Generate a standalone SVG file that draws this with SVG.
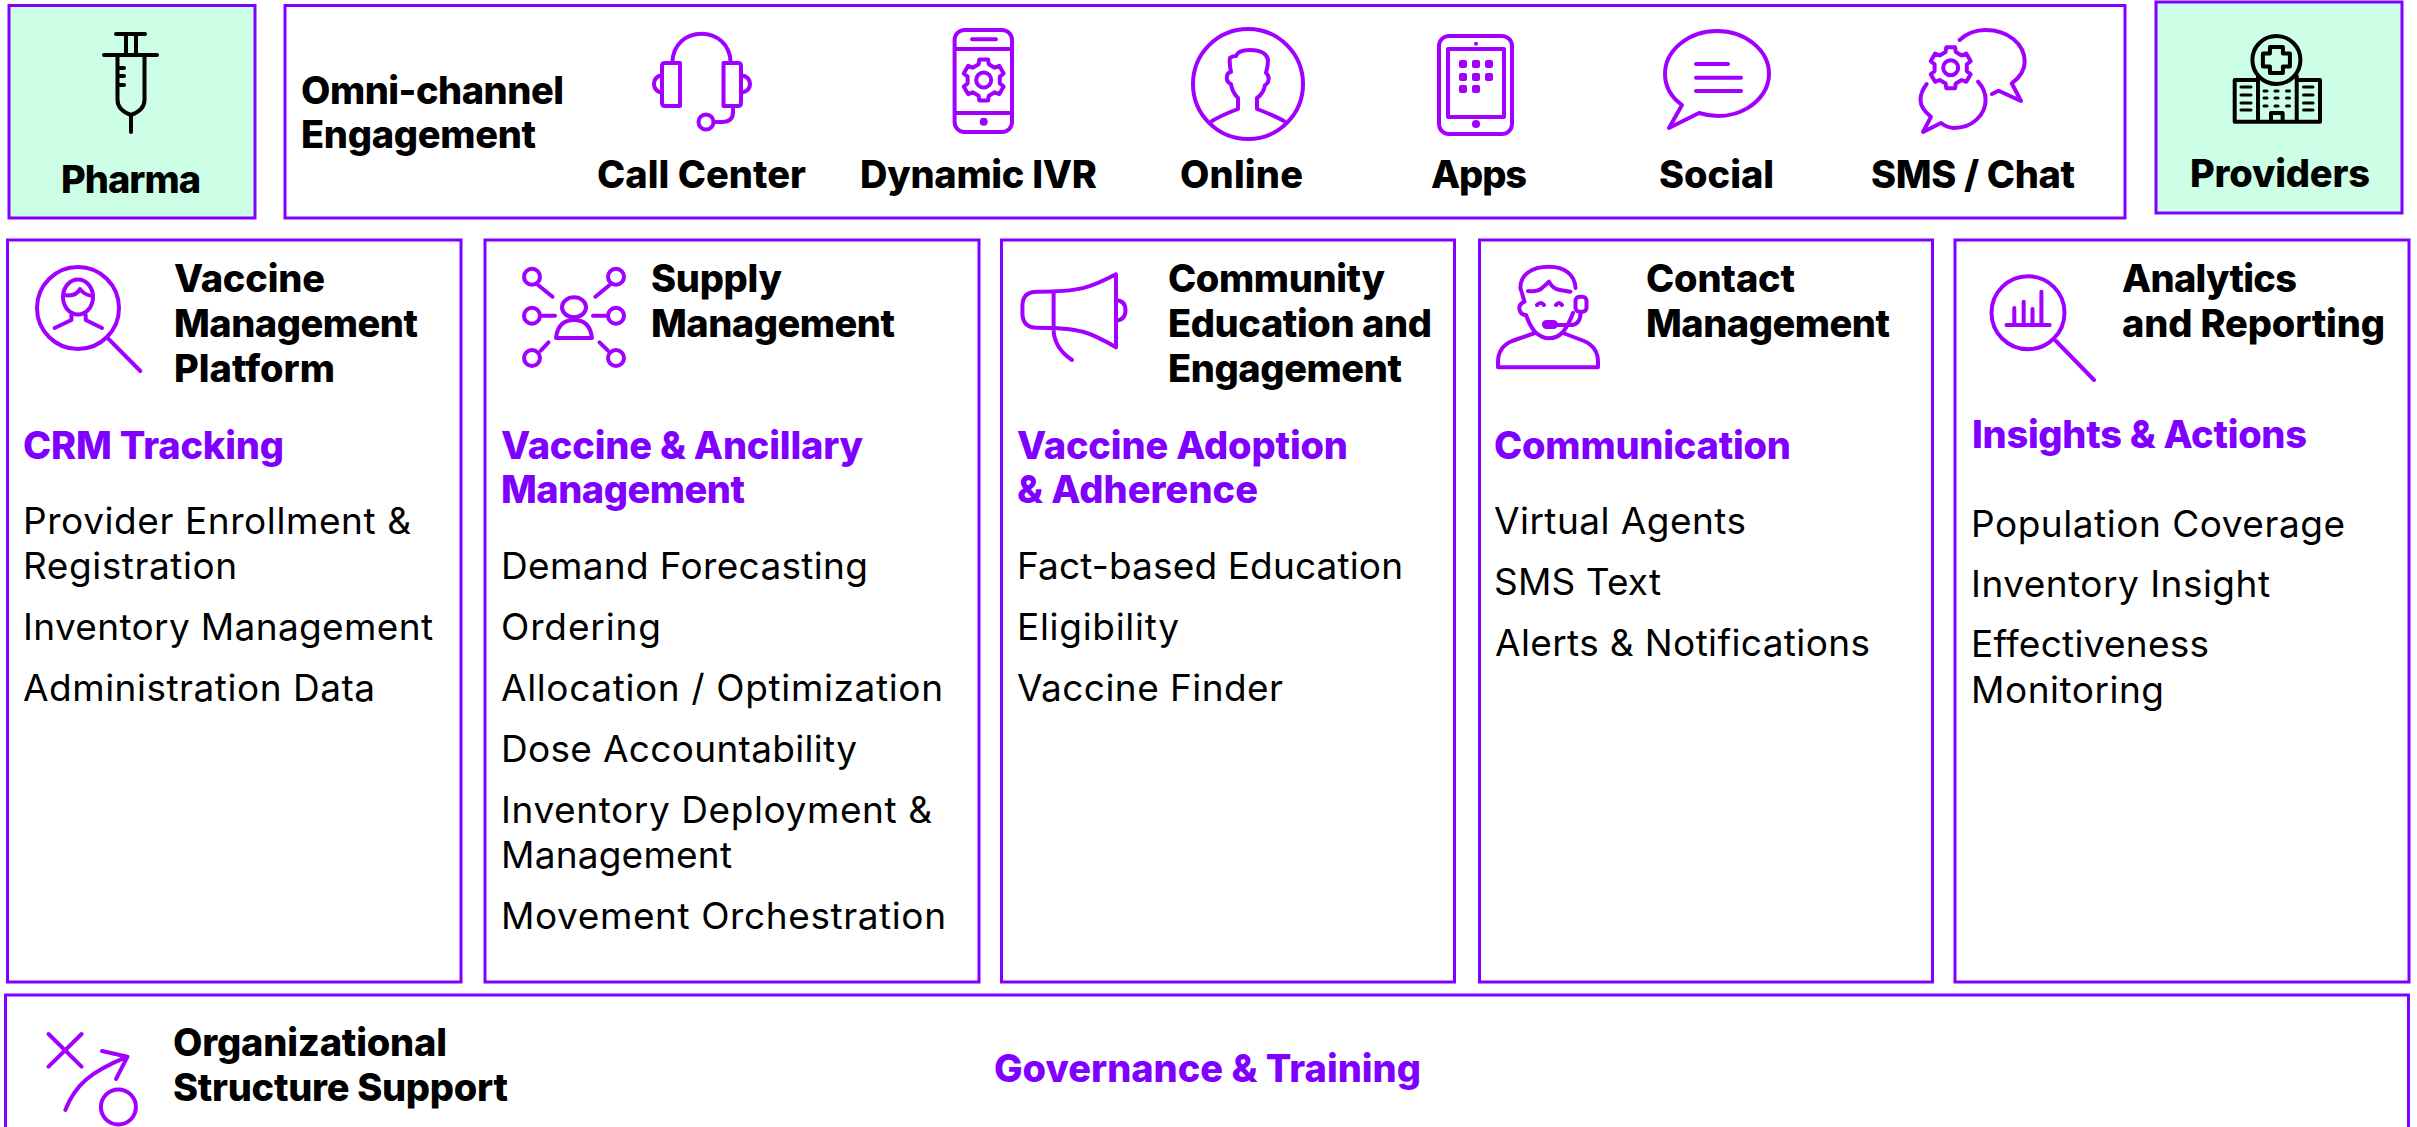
<svg xmlns="http://www.w3.org/2000/svg" xmlns:xlink="http://www.w3.org/1999/xlink" width="2417" height="1127" viewBox="0 0 2417 1127">
<style>
text{font-family:"Inter","Liberation Sans",sans-serif;fill:#000}
.h{font-size:38px;font-weight:800}
.s{font-size:38px;font-weight:800;fill:#8000ff}
.b{font-size:37px;font-weight:400}
.box{fill:#fff;stroke:#8000ff;stroke-width:3}
.green{fill:#ccffe6}
.ic{fill:none;stroke:#a100ff;stroke-width:4;stroke-linecap:round;stroke-linejoin:round}
.ik{fill:none;stroke:#000;stroke-width:4;stroke-linecap:round;stroke-linejoin:round}
.fp{fill:#a100ff}
.fk{fill:#000}
</style>
<defs>
<polygon id="gear" points="-5.1,-15.7 -4.4,-20.5 4.4,-20.5 5.1,-15.7 11,-12.3 15.6,-14.1 20,-6.5 16.1,-3.4 16.1,3.4 20,6.5 15.6,14.1 11,12.3 5.1,15.7 4.4,20.5 -4.4,20.5 -5.1,15.7 -11,12.3 -15.6,14.1 -20,6.5 -16.1,3.4 -16.1,-3.4 -20,-6.5 -15.6,-14.1 -11,-12.3"/>
</defs>
<rect width="2417" height="1127" fill="#fff"/>

<g id="pharma">
<rect class="box green" x="9" y="5.5" width="246" height="212.5"/>
<path class="ik" d="M116 34H145M126 34V55M136 34V55M104 55H157M117.500 55V100Q117.500 110 131 115Q144.500 110 144.500 100V55M131 115V132M118 68H124M118 76H124M118 85H124"/>
<text class="h" x="61" y="193" textLength="140">Pharma</text>
</g>

<g id="omni-channel">
<rect class="box" x="285" y="5.500" width="1840" height="212.500"/>
<text class="h" x="301" y="104" textLength="263">Omni-channel</text>
<text class="h" x="301" y="148" textLength="235">Engagement</text>
<g id="call-center">
<path class="ic" d="M672.400 62.700C673 24 730 24 730.600 62.700M662 66Q662 63 665 63H680V106H665Q662 106 662 103ZM741 66Q741 63 738 63H723.500V106H738Q741 106 741 103ZM662 75Q654 77 654 84Q654 91 662 93M741 75Q750 77 750 84Q750 91 741 93M733 106V112Q733 122 722 122H714"/>
<ellipse class="ic" cx="706" cy="122" rx="7.500" ry="7.500"/>
<text class="h" x="597" y="188" textLength="209">Call Center</text>
</g>
<g id="dynamic-ivr">
<rect class="ic" x="954.600" y="30" width="57.400" height="102" rx="10"/>
<path class="ic" d="M955 49H1012M955 113H1012M972 39.300H996"/>
<circle class="fp" cx="983.700" cy="121.700" r="4"/>
<use href="#gear" class="ic" x="983.700" y="80"/>
<circle class="ic" cx="983.700" cy="80" r="7.500"/>
<text class="h" x="860" y="188" textLength="237">Dynamic IVR</text>
</g>
<g id="online">
<circle class="ic" cx="1248" cy="84" r="55"/>
<path class="ic" d="M1212 121Q1222 115 1238 109V98Q1232 92 1231 84Q1226 82 1227 76Q1228 72 1231 72Q1229 62 1230 58Q1232 56 1236 56Q1238 50 1250 50Q1266 50 1268 60Q1268 66 1266 73Q1270 76 1268 82Q1266 85 1265 85Q1264 93 1257 98V109Q1273 115 1284 121"/>
<text class="h" x="1180" y="188" textLength="123">Online</text>
</g>
<g id="apps">
<rect class="ic" x="1439" y="36" width="73" height="98" rx="10"/>
<rect class="ic" x="1448" y="49" width="56" height="68"/>
<circle class="fp" cx="1476" cy="43.700" r="2"/>
<circle class="fp" cx="1476" cy="124" r="4"/>
<g class="fp">
<rect x="1459" y="60" width="8" height="8" rx="2"/><rect x="1472" y="60" width="8" height="8" rx="2"/><rect x="1485" y="60" width="8" height="8" rx="2"/>
<rect x="1459" y="73" width="8" height="8" rx="2"/><rect x="1472" y="73" width="8" height="8" rx="2"/><rect x="1485" y="73" width="8" height="8" rx="2"/>
<rect x="1459" y="85" width="8" height="8" rx="2"/><rect x="1472" y="85" width="8" height="8" rx="2"/>
</g>
<text class="h" x="1431" y="188" textLength="96">Apps</text>
</g>
<g id="social">
<path class="ic" d="M1682 105L1669 128L1699 113C1735 124 1769 102 1769 74C1769 50 1745 31 1717 31C1689 31 1665 50 1665 74C1665 87 1671 97 1682 105ZM1696 64H1728M1696 77.700H1741M1696 91H1741"/>
<text class="h" x="1659" y="188" textLength="115">Social</text>
</g>
<g id="sms-chat">
<use href="#gear" class="ic" x="1950.700" y="67.700"/>
<circle class="ic" cx="1950.700" cy="67.700" r="7.500"/>
<path class="ic" d="M1959.600 40C1968 32 1976 30 1985.600 30C2008 30 2024.700 44 2024.700 61.700C2024.700 70 2019 78 2011.700 83.300L2021 101L1998.600 90.700L1992 94M1926.700 84C1922 90 1920.500 95 1920.500 100C1920.500 106 1925 112 1931 116.700L1923 132L1941 123C1945 126 1949 128 1954 128C1972 128 1985.600 115 1985.600 100C1985.600 93 1983 87 1978 81.700"/>
<text class="h" x="1871" y="188" textLength="204">SMS / Chat</text>
</g>
</g>

<g id="providers">
<rect class="box green" x="2156" y="2" width="246" height="211"/>
<ellipse class="ik" cx="2276.400" cy="60" rx="24" ry="24"/>
<path class="ik" d="M2269.900 47H2282.900V53.500H2289.900V66.500H2282.900V73H2269.900V66.500H2262.900V53.500H2269.900ZM2258 80H2234.700V121.700H2320V80H2296.700M2258 76V121.700M2296.700 76V121.700M2271 121.700V113H2282.600V121.700"/>
<path class="ik" style="stroke-width:3" d="M2241 87H2251M2241 95H2251M2241 103H2251M2241 110H2251M2303.500 87H2313M2303.500 95H2313M2303.500 103H2313M2303.500 110H2313M2264 91H2267M2275 91H2278M2286.500 91H2289.500M2264 98H2267M2275 98H2278M2286.500 98H2289.500M2264 106H2267M2275 106H2278M2286.500 106H2289.500"/>
<text class="h" x="2190" y="187" textLength="180">Providers</text>
</g>

<g id="vaccine-management">
<rect class="box" x="7.500" y="240" width="453.500" height="742"/>
<circle class="ic" cx="78" cy="308" r="41"/>
<path class="ic" d="M108 338.300L140.300 371M64 295Q76 297 80 289Q84 295 93 296M71.400 315V320L54.600 328M85.700 315V320L102 328"/>
<ellipse class="ic" cx="78" cy="297" rx="15" ry="17.500"/>
<text class="h" x="174" y="292" textLength="151">Vaccine</text>
<text class="h" x="174" y="337" textLength="244">Management</text>
<text class="h" x="174" y="382" textLength="161">Platform</text>
<text class="s" x="23" y="458.500" textLength="261">CRM Tracking</text>
<text class="b" x="23" y="534" textLength="388">Provider Enrollment &amp;</text>
<text class="b" x="23" y="579" textLength="214">Registration</text>
<text class="b" x="23" y="640" textLength="410">Inventory Management</text>
<text class="b" x="23" y="700.700" textLength="352">Administration Data</text>
</g>

<g id="supply-management">
<rect class="box" x="485" y="240" width="494" height="742"/>
<g class="ic">
<ellipse cx="574" cy="307.300" rx="12" ry="10"/>
<path d="M556 338Q558 320 574 320Q590 320 592 338Z"/>
<circle cx="532" cy="276.700" r="8"/><circle cx="616" cy="276.700" r="8"/><circle cx="532" cy="315.700" r="8"/><circle cx="616" cy="315.700" r="8"/><circle cx="532" cy="358" r="8"/><circle cx="616" cy="358" r="8"/>
<path d="M538 285L552.500 296.700M609.700 285L595.400 296.700M542.400 315.700H555M593 315.700H605.600M540.800 350.700L548.500 342.300M599.500 342.300L608 350.700"/>
</g>
<text class="h" x="651" y="292" textLength="131">Supply</text>
<text class="h" x="651" y="337" textLength="244">Management</text>
<text class="s" x="501" y="458.500" textLength="362">Vaccine &amp; Ancillary</text>
<text class="s" x="501" y="503" textLength="244">Management</text>
<text class="b" x="501" y="579" textLength="367">Demand Forecasting</text>
<text class="b" x="501" y="640" textLength="160">Ordering</text>
<text class="b" x="501" y="700.700" textLength="442">Allocation / Optimization</text>
<text class="b" x="501" y="762" textLength="356">Dose Accountability</text>
<text class="b" x="501" y="823" textLength="431">Inventory Deployment &amp;</text>
<text class="b" x="501" y="868" textLength="231">Management</text>
<text class="b" x="501" y="929" textLength="445">Movement Orchestration</text>
</g>

<g id="community-education">
<rect class="box" x="1001.500" y="240" width="453" height="742"/>
<path class="ic" d="M1116 274.300V347.300M1116 274.300C1090 288 1080 291.700 1037 291.700Q1022.400 291.700 1022.400 306V313Q1022.400 327.700 1037 327.700C1080 327.700 1090 332 1116 347.300M1053.600 291.700V330C1054 342 1060 352 1072 360M1116 300Q1125.500 301 1125.500 310Q1125.500 320 1116 320.700"/>
<text class="h" x="1168" y="292" textLength="217">Community</text>
<text class="h" x="1168" y="337" textLength="264">Education and</text>
<text class="h" x="1168" y="382" textLength="234">Engagement</text>
<text class="s" x="1017" y="458.500" textLength="331">Vaccine Adoption</text>
<text class="s" x="1017" y="503" textLength="241">&amp; Adherence</text>
<text class="b" x="1017" y="579" textLength="386">Fact-based Education</text>
<text class="b" x="1017" y="640" textLength="162">Eligibility</text>
<text class="b" x="1017" y="700.700" textLength="266">Vaccine Finder</text>
</g>

<g id="contact-management">
<rect class="box" x="1479.500" y="240" width="453" height="742"/>
<path class="ic" d="M1575.500 288C1575 275 1565 266.700 1549 266.700C1531 266.700 1520.400 275 1520.400 288L1524.500 301.700Q1517 305 1520.400 312Q1522 315 1526 315Q1530 326 1535 332Q1542 338.300 1549 338.300Q1557 338.300 1563 332Q1569 324 1573 313M1534.700 333L1512 341Q1498 347 1498 362V367.300H1598V362Q1598 347 1584 341L1563 333M1528 291Q1538 292 1542 288Q1546 285 1549 281.700Q1553 289 1560 290L1570.400 291.700M1537 305Q1541 301 1544 305M1556 305Q1559 301 1562 305M1580.600 313.300Q1580 325 1570 325H1557.700"/>
<rect class="ic" x="1575.500" y="296.700" width="11" height="15" rx="4"/>
<rect class="fp" x="1542" y="320" width="16" height="9" rx="4.500"/>
<text class="h" x="1646" y="292" textLength="149">Contact</text>
<text class="h" x="1646" y="337" textLength="244">Management</text>
<text class="s" x="1494" y="458.500" textLength="297">Communication</text>
<text class="b" x="1494" y="534" textLength="252">Virtual Agents</text>
<text class="b" x="1494" y="595" textLength="167">SMS Text</text>
<text class="b" x="1495" y="656" textLength="375">Alerts &amp; Notifications</text>
</g>

<g id="analytics-reporting">
<rect class="box" x="1955" y="240" width="454" height="742"/>
<circle class="ic" cx="2028" cy="312.700" r="36.500"/>
<path class="ic" d="M2056 341L2094 380M2006.500 325H2049.700M2014.300 308V325M2023.700 301.700V325M2032.500 309V325M2041.400 291.700V325"/>
<text class="h" x="2122" y="292" textLength="175">Analytics</text>
<text class="h" x="2122" y="337" textLength="263">and Reporting</text>
<text class="s" x="1972" y="448" textLength="335">Insights &amp; Actions</text>
<text class="b" x="1971" y="536.700" textLength="374">Population Coverage</text>
<text class="b" x="1971" y="597" textLength="299">Inventory Insight</text>
<text class="b" x="1971" y="657" textLength="238">Effectiveness</text>
<text class="b" x="1971" y="703" textLength="193">Monitoring</text>
</g>

<g id="organizational-structure">
<rect class="box" x="5.500" y="995" width="2403" height="160"/>
<path class="ic" d="M48.500 1034L81.600 1066.700M81.600 1034L48.500 1066.700M65.300 1110C75 1085 90 1072 127.500 1056.700M102 1051L127.500 1056.700L116 1079"/>
<ellipse class="ic" cx="118.400" cy="1107" rx="17.500" ry="17.500"/>
<text class="h" x="173" y="1055.700" textLength="274">Organizational</text>
<text class="h" x="173" y="1101" textLength="335">Structure Support</text>
<text class="s" x="994" y="1082" textLength="427">Governance &amp; Training</text>
</g>
</svg>
